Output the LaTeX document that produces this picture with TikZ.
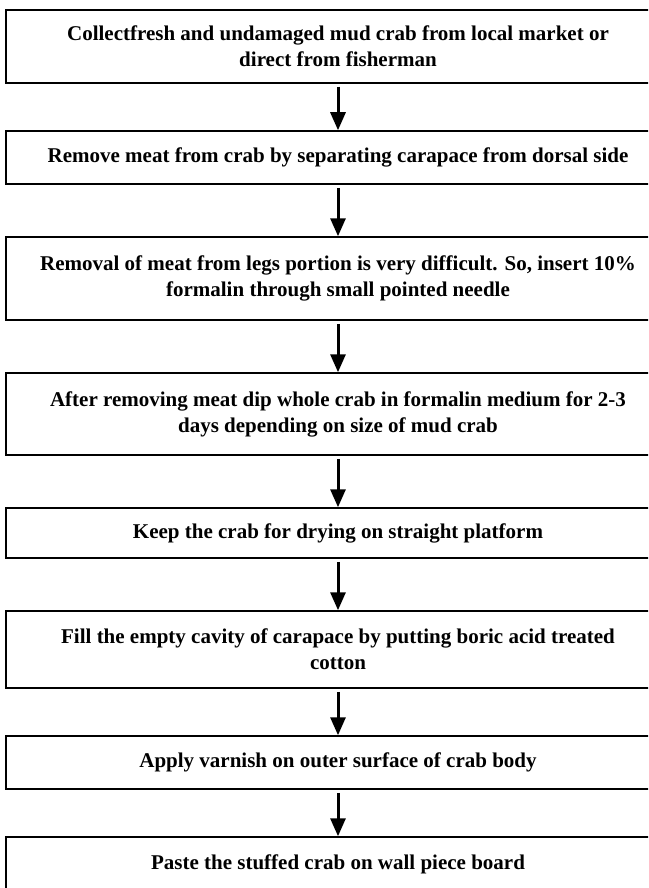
\documentclass[tikz,border=0pt]{standalone}
\usepackage{fontspec}
\setmainfont{Liberation Serif}
\usetikzlibrary{arrows.meta}

\begin{document}
\begin{tikzpicture}
[
	x=1pt, y=1pt,
	stepbox/.style = {draw, line width=1.5pt, minimum width=664pt, inner sep=0pt,
		align=center, font=\fontsize{21}{26}\selectfont\bfseries},
	flow/.style = {line width=3pt, shorten <=3pt, -{Triangle[length=18pt,width=15pt]}},
]
\clip (0,0) rectangle (648,-888);

\node[stepbox, minimum height=73pt] (collect) at (338,-46.5)
	{Collectfresh and undamaged mud crab from local market or\\ direct from fisherman};
\node[stepbox, minimum height=53pt] (remove) at (338,-157.5)
	{Remove meat from crab by separating carapace from dorsal side};
\node[stepbox, minimum height=83pt] (legs) at (338,-278.5)
	{Removal of meat from legs portion is very difficult. So, insert 10\%\\ formalin through small pointed needle};
\node[stepbox, minimum height=82pt] (dip) at (338,-414)
	{After removing meat dip whole crab in formalin medium for 2-3\\ days depending on size of mud crab};
\node[stepbox, minimum height=50pt] (dry) at (338,-533)
	{Keep the crab for drying on straight platform};
\node[stepbox, minimum height=77pt] (fill) at (338,-649.5)
	{Fill the empty cavity of carapace by putting boric acid treated\\ cotton};
\node[stepbox, minimum height=53pt] (varnish) at (338,-762.5)
	{Apply varnish on outer surface of crab body};
\node[stepbox, minimum height=54pt] (paste) at (338,-864)
	{Paste the stuffed crab on wall piece board};

% arrows between the steps
\foreach \a/\b in {collect/remove, remove/legs, legs/dip, dip/dry, dry/fill, fill/varnish, varnish/paste}
\draw[flow] (\a.south) -- (\b.north);
\end{tikzpicture}
\end{document}
